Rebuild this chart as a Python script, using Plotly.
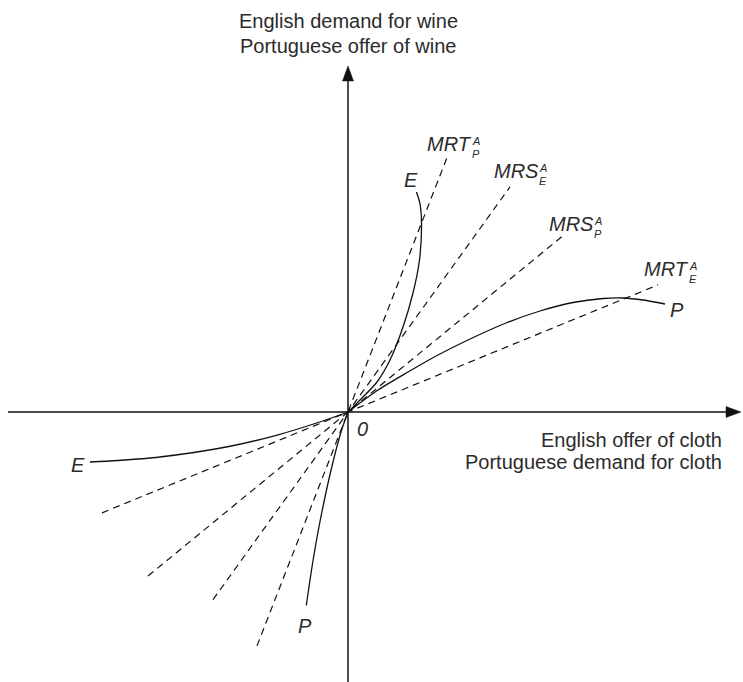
import plotly.graph_objects as go

# Offer curves: cloth traded on x, wine traded on y, autarky at the origin
e_upper_x = [0, 1.3, 2.9, 4.2, 5.5, 6.5, 7.15, 7.35, 7.2, 6.85]
e_upper_y = [0, 1.3, 3.0, 5.2, 8.5, 11.9, 15.2, 19.0, 20.8, 22.0]
e_lower_x = [0, -2.83, -7.17, -12.17, -18.83, -23.0, -25.8]
e_lower_y = [0, -1.0, -2.33, -3.5, -4.5, -4.85, -5.0]

p_upper_x = [0, 3.0, 6.0, 9.0, 12.0, 15.8, 19.2, 22.5, 25.5, 27.5, 29.5, 31.7]
p_upper_y = [0, 2.2, 4.0, 5.7, 7.2, 8.9, 10.1, 10.95, 11.35, 11.4, 11.2, 10.8]
p_lower_x = [0, -0.7, -1.5, -2.3, -3.0, -3.6, -4.17]
p_lower_y = [0, -2.0, -5.0, -8.5, -12.0, -15.5, -19.34]

# Autarky price rays through the origin
ray_names = ["MRT", "MRS", "MRS", "MRT"]
ray_sub = ["P", "E", "P", "E"]
ray_slopes = [2.57, 1.39, 0.82, 0.41]
ray_x_lo = [-9.1, -13.5, -20.0, -24.6]
ray_x_hi = [9.9, 16.2, 21.4, 31.0]

X_RANGE = [-34.8, 39.5]
Y_RANGE = [-27.0, 41.2]

FONT = "Liberation Sans, Arial, Helvetica, sans-serif"
TXT = "#2b2b2b"

fig = go.Figure()

for xs, ys in [(e_upper_x, e_upper_y), (e_lower_x, e_lower_y),
               (p_upper_x, p_upper_y), (p_lower_x, p_lower_y)]:
    fig.add_trace(go.Scatter(x=xs, y=ys, mode="lines",
                             line=dict(color="#111111", width=1.3, shape="spline", smoothing=0.8),
                             hoverinfo="skip", showlegend=False))

for s, lo, hi in zip(ray_slopes, ray_x_lo, ray_x_hi):
    fig.add_trace(go.Scatter(x=[lo, hi], y=[s * lo, s * hi], mode="lines",
                             line=dict(color="#111111", width=1.2, dash="7px,5px"),
                             hoverinfo="skip", showlegend=False))

# Axes with arrowheads
x_start, x_tip = -34.0, 39.3
y_bottom, y_tip = Y_RANGE[0], 34.6
head_len, head_half = 1.5, 0.55
ax_line = dict(color="#111111", width=1.5)
fig.add_shape(type="line", x0=x_start, y0=0, x1=x_tip - head_len * 0.5, y1=0, line=ax_line)
fig.add_shape(type="line", x0=0, y0=y_bottom, x1=0, y1=y_tip - head_len * 0.5, line=ax_line)
fig.add_shape(type="path",
              path=f"M {x_tip},0 L {x_tip - head_len},{head_half} L {x_tip - head_len},{-head_half} Z",
              fillcolor="#111111", line=dict(color="#111111", width=0.5))
fig.add_shape(type="path",
              path=f"M 0,{y_tip} L {head_half},{y_tip - head_len} L {-head_half},{y_tip - head_len} Z",
              fillcolor="#111111", line=dict(color="#111111", width=0.5))


def label(x, y, text, size=20, italic=False, xanchor="center"):
    fig.add_annotation(x=x, y=y, text=f"<i>{text}</i>" if italic else text,
                       showarrow=False, xanchor=xanchor, yanchor="middle",
                       borderpad=0,
                       font=dict(family=FONT, size=size, color=TXT))


# Axis titles
label(0, 39.1, "English demand for wine")
label(0, 36.6, "Portuguese offer of wine")
label(37.5, -2.8, "English offer of cloth", xanchor="right")
label(37.5, -5.0, "Portuguese demand for cloth", xanchor="right")

# Origin and curve labels
label(1.4, -1.67, "0", italic=True)
label(6.3, 23.2, "E", italic=True)
label(-27.0, -5.25, "E", italic=True)
label(32.9, 10.2, "P", italic=True)
label(-4.3, -21.4, "P", italic=True)

# Ray labels: main text plus stacked superscript A and subscript
main_left_x = [7.8, 14.5, 20.0, 29.5]
main_y = [26.8, 24.1, 18.8, 14.3]
small_x = [12.75, 19.5, 25.0, 34.45]
for name, sub, lx, ly, sx in zip(ray_names, ray_sub, main_left_x, main_y, small_x):
    label(lx, ly, name, italic=True, xanchor="left")
    label(sx, ly + 0.3, "A", size=11, italic=True)
    label(sx, ly - 1.0, sub, size=11, italic=True)

fig.update_layout(
    width=743, height=682,
    margin=dict(l=0, r=0, t=0, b=0),
    paper_bgcolor="white", plot_bgcolor="white",
    xaxis=dict(range=X_RANGE, visible=False, fixedrange=True),
    yaxis=dict(range=Y_RANGE, visible=False, fixedrange=True),
    showlegend=False,
)

fig.write_html("out.html")
